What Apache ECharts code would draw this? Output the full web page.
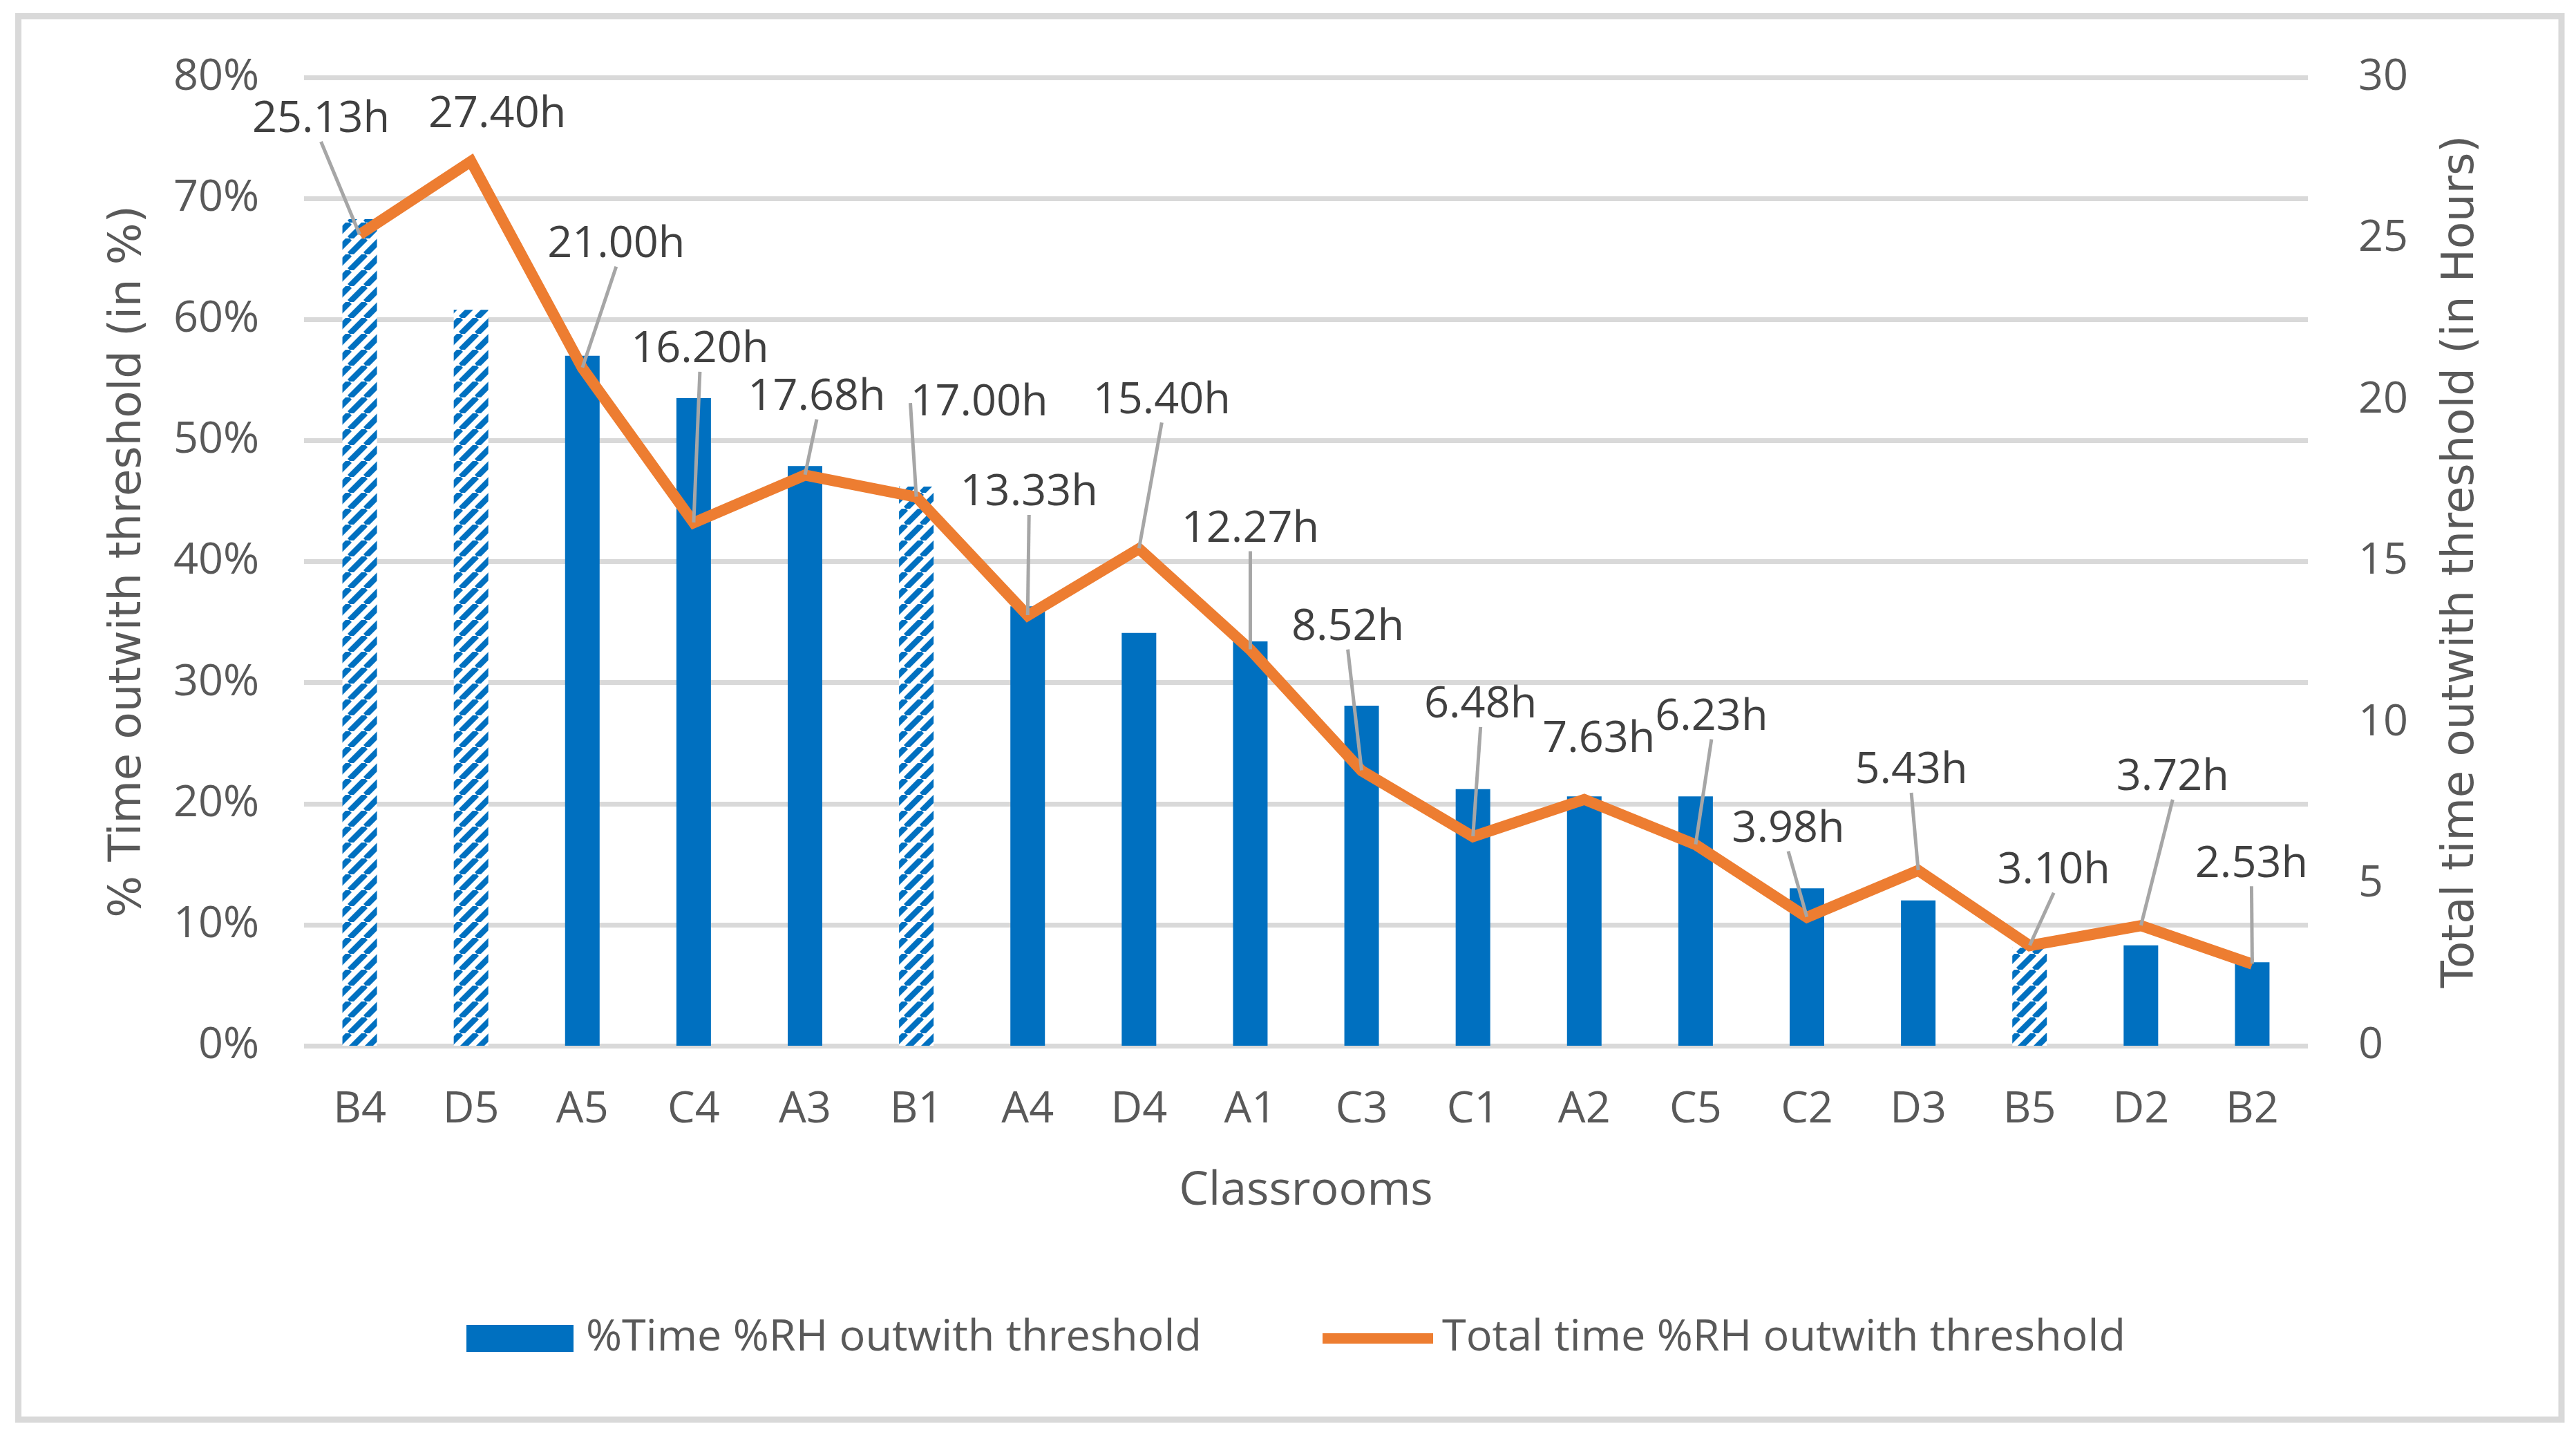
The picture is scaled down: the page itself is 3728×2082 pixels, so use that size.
<!DOCTYPE html>
<html><head><meta charset="utf-8">
<script src="https://cdn.jsdelivr.net/npm/echarts@6/dist/echarts.min.js"></script>
<style>html,body{margin:0;padding:0;background:#fff}#c{width:3728px;height:2082px}</style>
</head><body><div id="c"></div><script>
// ---- data ----
const categories = ['B4','D5','A5','C4','A3','B1','A4','D4','A1','C3','C1','A2','C5','C2','D3','B5','D2','B2'];
const pctTime = [68.3,60.8,57.0,53.5,47.9,46.2,36.3,34.1,33.4,28.1,21.2,20.6,20.6,13.0,12.0,8.1,8.3,6.9];
const hoursTotal = [25.13,27.40,21.00,16.20,17.68,17.00,13.33,15.40,12.27,8.52,6.48,7.63,6.23,3.98,5.43,3.10,3.72,2.53];
const hatchedRooms = ['B4','D5','B1','B5'];
const barName = '%Time %RH outwith threshold';
const lineName = 'Total time %RH outwith threshold';
const leftAxisName = '% Time outwith threshold (in %)';
const rightAxisName = 'Total time outwith threshold (in Hours)';
const xAxisName = 'Classrooms';

// ---- label placement (styling, pixel offsets from each point) ----
const labelShift = [[-56,-166],[38,-67],[49,-178],[9,-250],[17,-112],[91,-136],[2,-177],[33,-214],[0,-174],[-20,-207],[11,-190],[21,-87],[23,-184],[-27,-127],[-10,-144],[35,-108],[46,-214],[-1,-144]];
const noLeader = [1, 11];

const BLUE = '#0070C0', ORANGE = '#ED7D31', GRID = '#D9D9D9', TXT = '#595959';
const FONT = '"Open Sans", sans-serif';

function hatch(){
  const s = 23, c = document.createElement('canvas');
  c.width = s; c.height = s;
  const g = c.getContext('2d');
  g.fillStyle = '#fff'; g.fillRect(0,0,s,s);
  g.strokeStyle = BLUE; g.lineWidth = 8.5;
  for (const k of [-s, 0, s]) { g.beginPath(); g.moveTo(k, s); g.lineTo(k + s, 0); g.stroke(); }
  return c;
}
const hatchFill = { image: hatch(), repeat: 'repeat' };

const chart = echarts.init(document.getElementById('c'), null, { renderer: 'canvas' });
const option = {
  backgroundColor: '#fff',
  animation: false,
  graphic: [{
    type: 'rect', silent: true,
    shape: { x: 26.5, y: 23.5, width: 3680.5, height: 2030.5 },
    style: { fill: 'none', stroke: GRID, lineWidth: 9 }
  }],
  grid: { left: 440, right: 388, top: 112, bottom: 569, containLabel: false },
  legend: [{
    data: [barName], left: 675, top: 1905, padding: 0,
    itemWidth: 155, itemHeight: 39, icon: 'rect',
    textStyle: { fontFamily: FONT, fontSize: 63, color: TXT, padding: [0,0,0,13] }
  }, {
    data: [{ name: lineName, icon: 'rect' }], left: 1914, top: 1905, padding: 0,
    itemWidth: 160, itemHeight: 15,
    textStyle: { fontFamily: FONT, fontSize: 63, color: TXT, padding: [0,0,0,8] }
  }],
  xAxis: {
    type: 'category', data: categories,
    axisLine: { show: false }, axisTick: { show: false },
    axisLabel: { fontFamily: FONT, fontSize: 63, color: TXT, margin: 62 },
    name: xAxisName, nameLocation: 'middle', nameGap: 177,
    nameTextStyle: { fontFamily: FONT, fontSize: 68, color: TXT }
  },
  yAxis: [{
    type: 'value', min: 0, max: 80, interval: 10,
    axisLabel: { formatter: '{value}%', fontFamily: FONT, fontSize: 63, color: TXT, margin: 65 },
    axisLine: { show: false }, axisTick: { show: false },
    splitLine: { show: true, lineStyle: { color: GRID, width: 7 } },
    name: leftAxisName, nameLocation: 'middle', nameRotate: 90, nameGap: 222,
    nameTextStyle: { fontFamily: '"DejaVu Sans", sans-serif', fontSize: 64, color: TXT }
  }, {
    type: 'value', min: 0, max: 30, interval: 5, position: 'right',
    axisLabel: { fontFamily: FONT, fontSize: 63, color: TXT, margin: 73 },
    axisLine: { show: false }, axisTick: { show: false },
    splitLine: { show: false },
    name: rightAxisName, nameLocation: 'middle', nameRotate: 90, nameGap: 190,
    nameTextStyle: { fontFamily: '"DejaVu Sans", sans-serif', fontSize: 64, color: TXT }
  }],
  series: [{
    name: barName, type: 'bar', yAxisIndex: 0, barWidth: 50,
    itemStyle: { color: BLUE },
    data: pctTime.map((v, i) => hatchedRooms.includes(categories[i])
      ? { value: v, itemStyle: { color: hatchFill } } : v),
    z: 2
  }, {
    name: lineName, type: 'line', yAxisIndex: 1,
    color: ORANGE,
    lineStyle: { color: ORANGE, width: 16, join: 'miter' },
    symbol: 'circle', symbolSize: 1, showSymbol: true,
    itemStyle: { color: ORANGE },
    z: 3,
    label: {
      show: true, position: 'top', fontFamily: FONT, fontSize: 63, color: '#404040',
      formatter: p => p.value.toFixed(2) + 'h'
    },
    labelLine: { show: true, lineStyle: { color: '#A6A6A6', width: 5 } },
    labelLayout: function (p) {
      const s = labelShift[p.dataIndex];
      const cx = p.rect.x + p.rect.width / 2, cy = p.rect.y + p.rect.height / 2;
      return { x: cx + s[0], y: cy + s[1], align: 'center', verticalAlign: 'middle' };
    },
    data: hoursTotal.map((v, i) => ({ value: v, labelLine: { show: !noLeader.includes(i) } }))
  }]
};
chart.setOption(option);
</script></body></html>
